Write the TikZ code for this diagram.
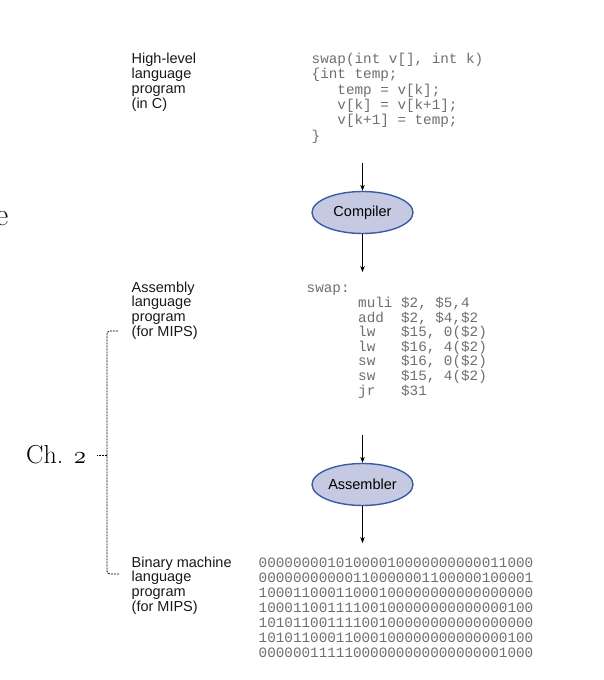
\documentclass[tikz,border=0pt]{standalone}
\usepackage{fontspec}
\setsansfont{Liberation Sans}
\setmonofont{Liberation Mono}
\usetikzlibrary{shapes.geometric,arrows.meta}

\definecolor{codegray}{RGB}{110,110,110}
\definecolor{toolfill}{RGB}{197,201,226}
\definecolor{tooldraw}{RGB}{59,91,165}

% multi-line nodes: base anchor sits on the last line
\tikzset{
	lbl/.style={anchor=base west, inner sep=0pt, align=left, text=black!90,
		font=\sffamily\fontsize{14.5}{14.8}\selectfont},
	code/.style={anchor=base west, inner sep=0pt, align=left, text=codegray,
		font=\ttfamily\fontsize{14.3}{15}\selectfont},
	tool/.style={ellipse, draw=tooldraw, fill=toolfill, line width=1.4pt,
		minimum width=101pt, minimum height=42pt, inner sep=0pt,
		font=\sffamily\fontsize{14.5}{17}\selectfont},
	flow/.style={-{Stealth[length=6pt,width=4.5pt]}, line width=0.6pt},
	bracket/.style={dash pattern=on 2pt off 1pt, line width=0.75pt, rounded corners=3pt}
}

\begin{document}
\begin{tikzpicture}[x=1pt, y=-1pt]
		%%%%% START %%%%%
		\useasboundingbox (0, 0) rectangle (604, 680);
		
		\node[anchor=base east, inner sep=0pt, font=\fontsize{32}{36}\selectfont] (heade) at (8.5, 225) {e};
		
		\node[lbl] (hllabel) at (131.5, 108) {High-level\\language\\program\\(in C)};
		\node[code, font=\ttfamily\fontsize{14.3}{15.3}\selectfont] (csrc) at (311.5, 140) {swap(int v[], int k)\\\{int temp;\\\phantom{xxx}temp = v[k];\\\phantom{xxx}v[k] = v[k+1];\\\phantom{xxx}v[k+1] = temp;\\\}};
		
		\node[tool] (compiler) at (362.5, 212.5) {Compiler};
		\coordinate (cin) at (362.5, 163);
		\coordinate (cout) at (362.5, 272);
		\draw[flow] (cin) -- (compiler.north);
		\draw[flow] (compiler.south) -- (cout);
		
		\node[lbl] (asmlabel) at (131.5, 336.5) {Assembly\\language\\program\\(for MIPS)};
		\node[code, font=\ttfamily\fontsize{14.3}{14.6}\selectfont] (asmsrc) at (306.5, 395) {swap:\\
			\phantom{xxxxxx}muli \$2, \$5,4\\
			\phantom{xxxxxx}add\phantom{x} \$2, \$4,\$2\\
			\phantom{xxxxxx}lw\phantom{xx} \$15, 0(\$2)\\
			\phantom{xxxxxx}lw\phantom{xx} \$16, 4(\$2)\\
			\phantom{xxxxxx}sw\phantom{xx} \$16, 0(\$2)\\
			\phantom{xxxxxx}sw\phantom{xx} \$15, 4(\$2)\\
			\phantom{xxxxxx}jr\phantom{xx} \$31};
		
		\node[tool] (assembler) at (362.5, 484.5) {Assembler};
		\coordinate (ain) at (362.5, 435);
		\coordinate (aout) at (362.5, 543);
		\draw[flow] (ain) -- (assembler.north);
		\draw[flow] (assembler.south) -- (aout);
		
		\node[lbl] (binlabel) at (131.5, 611.5) {Binary machine\\language\\program\\(for MIPS)};
		\node[code] (binsrc) at (258.5, 657) {00000000101000010000000000011000\\
			00000000000110000001100000100001\\
			10001100011000100000000000000000\\
			10001100111100100000000000000100\\
			10101100111100100000000000000000\\
			10101100011000100000000000000100\\
			00000011111000000000000000001000};
		
		% chapter bracket
		\node[anchor=base west, inner sep=0pt, font=\fontsize{26}{30}\selectfont] (ch2) at (26, 463) {Ch. {\usefont{OML}{cmm}{m}{it}2}};
		\coordinate (btop) at (118, 331);
		\coordinate (bmid) at (107, 455);
		\coordinate (btick) at (97, 455);
		\coordinate (bbot) at (120, 574);
		\draw[bracket] (btop) -| (bmid) |- (bbot);
		\draw[bracket] (bmid) -- (btick);
		
		%%%%% END %%%%%
	\end{tikzpicture}
\end{document}
